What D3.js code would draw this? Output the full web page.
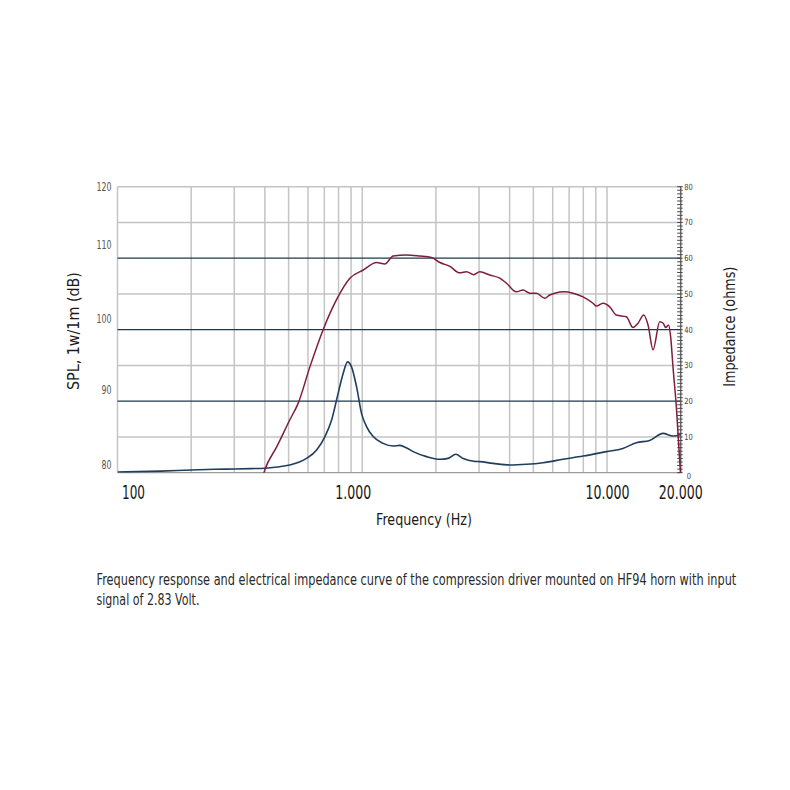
<!DOCTYPE html>
<html><head><meta charset="utf-8">
<script src="https://cdn.jsdelivr.net/npm/d3@7/dist/d3.min.js"></script>
<style>
html,body{margin:0;padding:0;background:#fff;}
svg{display:block;}
text{font-family:"DejaVu Sans","Liberation Sans",sans-serif;}
</style></head>
<body>
<svg id="chart" width="790" height="790"></svg>
<script>
// ---------- data ----------
const splFreq = [395,400,447,506,547,611,692,785,890,1009,1144,1237,1337,1517,1718,1918,2075,2280,2503,2665,2852,3021,3319,3647,3883,4266,4540,4835,5148,5566,5834,6115,6717,7262,7980,8764,9053,9632,10257,10915,11990,12770,13383,14125,14711,15420,16420,16960,17370,17830,18200,18600,19200,20000];
const splDb   = [79.8,80.4,83.6,87.4,89.7,94.8,100,104.2,107.2,108.35,109.4,109.2,110.3,110.45,110.3,110.1,109.4,108.85,107.95,108.1,107.7,108.1,107.65,107.2,106.5,105.3,105.55,105.1,105.1,104.4,104.85,105.1,105.3,105.1,104.6,103.7,103.3,103.7,103.2,102.05,101.8,100.3,100.9,102.05,100.65,97.2,101.1,100.9,100.3,100.65,99.0,94.8,89.2,79.5];
const impFreq = [100,150,200,250,300,350,400,450,506,550,592,651,704,749,797,836,871,904,948,993,1041,1108,1217,1337,1424,1520,1614,1831,2075,2243,2411,2583,2852,3021,3423,4006,4688,5478,6612,7980,9943,11610,13180,14930,16930,18600,20000];
const impOhm  = [0.2,0.45,0.75,0.95,1.05,1.15,1.25,1.6,2.15,2.9,4.0,6.35,10.1,14.7,22.2,27.8,31.0,29.6,24.0,16.6,12.9,10.1,8.2,7.45,7.65,6.9,5.9,4.5,3.75,4.0,5.15,4.0,3.2,3.1,2.6,2.15,2.35,2.8,3.75,4.65,5.9,6.8,8.4,9.0,11.0,10.25,10.7];
const freqTickValues = [100,1000,10000,20000];
const freqTickLabels = ["100","1.000","10.000","20.000"];
const splTicks = [80,90,100,110,120];
const ohmTicks = [0,10,20,30,40,50,60,70,80];
const darkOhmLines = [20,40,60];
const xTitle = "Frequency (Hz)";
const yLeftTitle = "SPL, 1w/1m (dB)";
const yRightTitle = "Impedance (ohms)";
const caption = ["Frequency response and electrical impedance curve of the compression driver mounted on HF94 horn with input","signal of 2.83 Volt."];

// ---------- layout ----------
const L = 117.5, R = 680.7, T = 186.7, B = 472.7;
const svg = d3.select("#chart");
const x = d3.scaleLog().domain([100,20000]).range([L,R]);
const ySpl = d3.scaleLinear().domain([80,120]).range([B,T]);
const yOhm = d3.scaleLinear().domain([0,80]).range([B,T]);

// vertical grid lines (log grid 1..9 per decade)
const gridF = [];
for (let d = 100; d <= 10000; d *= 10) for (let k = 1; k <= 9; k++) if (d*k <= 20000) gridF.push(d*k);
gridF.push(20000);
svg.append("g").selectAll("line").data(gridF).join("line")
  .attr("x1", d => x(d)).attr("x2", d => x(d)).attr("y1", T).attr("y2", B)
  .attr("stroke", "#c4c4c4").attr("stroke-width", 1.5);

// horizontal grid lines
svg.append("g").selectAll("line").data(ohmTicks.filter(v => v > 0 && !darkOhmLines.includes(v))).join("line")
  .attr("x1", L).attr("x2", R).attr("y1", d => yOhm(d)).attr("y2", d => yOhm(d))
  .attr("stroke", "#c4c4c4").attr("stroke-width", 1.5);
svg.append("g").selectAll("line").data(darkOhmLines).join("line")
  .attr("x1", L).attr("x2", R).attr("y1", d => yOhm(d)).attr("y2", d => yOhm(d))
  .attr("stroke", "#1e3a4c").attr("stroke-width", 1.3);
svg.append("line").attr("x1", L).attr("x2", R).attr("y1", B).attr("y2", B)
  .attr("stroke", "#9a9a9a").attr("stroke-width", 1.2);

// right axis minor ticks
svg.append("g").selectAll("line").data(d3.range(0, 81, 1)).join("line")
  .attr("x1", R - 3.5).attr("x2", R + 2).attr("y1", d => yOhm(d)).attr("y2", d => yOhm(d))
  .attr("stroke", "#333").attr("stroke-width", 0.9);
svg.append("line").attr("x1", R).attr("x2", R).attr("y1", T).attr("y2", B)
  .attr("stroke", "#555").attr("stroke-width", 1);

// clip
svg.append("clipPath").attr("id","clip").append("rect")
  .attr("x", L).attr("y", T - 2).attr("width", R - L + 2).attr("height", B - T + 2);

// curves
const impData = impFreq.map((f,i) => [f, impOhm[i]]);
const splData = splFreq.map((f,i) => [f, splDb[i]]);
svg.append("path").datum(impData)
  .attr("clip-path","url(#clip)")
  .attr("d", d3.line().x(d => x(d[0])).y(d => yOhm(d[1])).curve(d3.curveMonotoneX))
  .attr("fill","none").attr("stroke","#1f3d5c").attr("stroke-width",1.6);
svg.append("path").datum(splData)
  .attr("clip-path","url(#clip)")
  .attr("d", d3.line().x(d => x(d[0])).y(d => ySpl(d[1])).curve(d3.curveMonotoneX))
  .attr("fill","none").attr("stroke","#801d3c").attr("stroke-width",1.5);

// helper: condensed text — horizontally scaled so it spans width w starting at (x0,y0)
function condensed(str, x0, y0, w, size, color, rot){
  const t = svg.append("text").attr("font-size", size).attr("fill", color).text(str);
  const nat = t.node().getComputedTextLength();
  const k = w / nat;
  t.attr("transform", `translate(${x0},${y0})` + (rot ? ` rotate(${rot})` : "") + ` scale(${k},1)`);
  return t;
}

// left tick labels (right-aligned at x=111.5)
const leftDy = {80:-3.5, 90:-7, 100:-6.5, 110:-9, 120:4};
splTicks.forEach(v => {
  const w = String(v).length * 5;
  condensed(String(v), 111.5 - w, ySpl(v) + leftDy[v], w, 12.5, "#555");
});

// right tick labels
ohmTicks.forEach(v => {
  const w = String(v).length * 4.3;
  condensed(String(v), v === 0 ? R + 6 : R + 3.5, yOhm(v) + (v === 0 ? 6 : 3), w, 8.5, "#444");
});

// x tick labels
const xOff = {100: 16, 1000: -9, 10000: 0.5, 20000: 0};
const xW = {100: 23, 1000: 36, 10000: 44, 20000: 44};
freqTickValues.forEach((v,i) => {
  condensed(freqTickLabels[i], x(v) + xOff[v] - xW[v]/2, 498.5, xW[v], 19, "#1a1a1a");
});

// titles
condensed(xTitle, 424 - 48, 525, 96, 16.5, "#1a1a1a");
condensed(yLeftTitle, 78.5, 390, 118, 15.5, "#1a1a1a", -90);
condensed(yRightTitle, 734.5, 386.7, 120, 16, "#1a1a1a", -90);

// caption
const capW = [640, 103];
caption.forEach((line, i) => condensed(line, 96.5, 585 + i*19.5, capW[i], 16, "#2a2a2a"));
</script>
</body></html>
